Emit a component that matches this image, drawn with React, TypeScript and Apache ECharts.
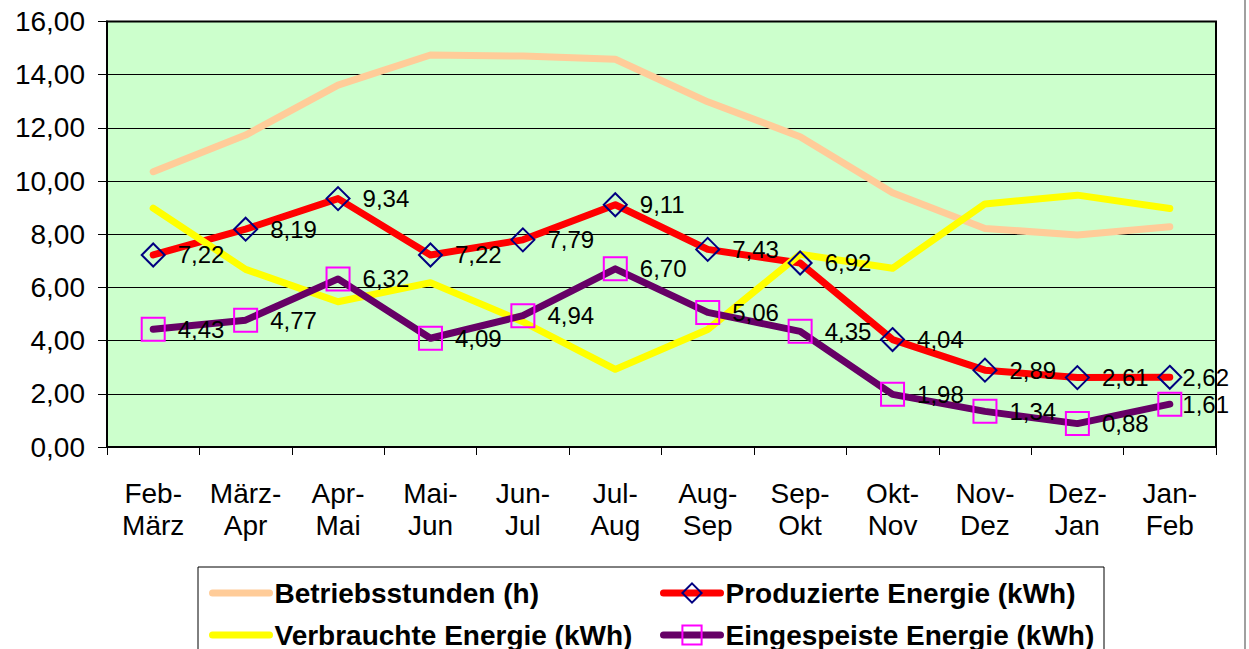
import React, { useEffect, useRef } from "react";
import * as echarts from "echarts";

const categories = [
  "Feb-\nMärz", "März-\nApr", "Apr-\nMai", "Mai-\nJun", "Jun-\nJul", "Jul-\nAug",
  "Aug-\nSep", "Sep-\nOkt", "Okt-\nNov", "Nov-\nDez", "Dez-\nJan", "Jan-\nFeb",
];
const betriebsstunden = [10.35, 11.73, 13.61, 14.74, 14.7, 14.58, 12.98, 11.67, 9.56, 8.22, 7.97, 8.28];
const produzierte = [7.22, 8.19, 9.34, 7.22, 7.79, 9.11, 7.43, 6.92, 4.04, 2.89, 2.61, 2.62];
const verbrauchte = [8.98, 6.68, 5.46, 6.18, 4.71, 2.92, 4.42, 7.25, 6.72, 9.14, 9.47, 8.97];
const eingespeiste = [4.43, 4.77, 6.32, 4.09, 4.94, 6.7, 5.06, 4.35, 1.98, 1.34, 0.88, 1.61];
const seriesNames = [
  "Betriebsstunden (h)",
  "Produzierte Energie (kWh)",
  "Verbrauchte Energie (kWh)",
  "Eingespeiste Energie (kWh)",
];

const FONT = "'Liberation Sans', Arial, sans-serif";
const fmt = (v: number) => v.toFixed(2).replace(".", ",");

export default function App() {
  const ref = useRef<HTMLDivElement>(null);
  useEffect(() => {
    if (!ref.current) return;
    const chart = echarts.init(ref.current, undefined, { renderer: "svg" });
    const labelCfg = {
      show: true,
      position: "right" as const,
      distance: 12,
      color: "#000",
      fontFamily: FONT,
      fontSize: 24,
      formatter: (p: any) => fmt(p.value),
    };
    const withLastLabelCloser = (arr: number[]) =>
      arr.map((v, i) =>
        i === arr.length - 1 ? { value: v, label: { distance: 0 } } : v
      );
    const legendItem = (name: string, left: number, top: number, hideSymbol: boolean) => ({
      orient: "horizontal" as const,
      left,
      top,
      padding: 0,
      itemWidth: 57,
      itemHeight: 24,
      textStyle: { fontFamily: FONT, fontSize: 28, fontWeight: "bold" as const, color: "#000", lineHeight: 26 },
      lineStyle: { width: 7, cap: "round" as const },
      data: [hideSymbol ? { name, itemStyle: { opacity: 0 } } : { name }],
    });
    chart.setOption({
      animation: false,
      backgroundColor: "#fff",
      grid: {
        left: 107,
        top: 21.5,
        right: 33,
        bottom: 202,
        show: true,
        backgroundColor: "#CCFFCC",
        borderColor: "#000",
        borderWidth: 2,
      },
      graphic: [
        {
          type: "rect",
          z: 0,
          shape: { x: 198, y: 567, width: 906, height: 100 },
          style: { fill: "#fff", stroke: "#000", lineWidth: 1 },
        },
        {
          type: "line",
          shape: { x1: 1245, y1: 0, x2: 1245, y2: 649 },
          style: { stroke: "#a0a0a0", lineWidth: 2 },
        },
      ],
      legend: [
        legendItem(seriesNames[0], 209, 579, true),
        legendItem(seriesNames[2], 209, 621, true),
        legendItem(seriesNames[1], 660, 579, false),
        legendItem(seriesNames[3], 660, 621, false),
      ],
      xAxis: {
        type: "category",
        data: categories,
        boundaryGap: true,
        axisLine: { show: true, lineStyle: { color: "#000", width: 2 } },
        axisTick: { show: true, length: 8, interval: 0, lineStyle: { color: "#000", width: 1 } },
        axisLabel: {
          interval: 0,
          margin: 30,
          color: "#000",
          fontFamily: FONT,
          fontSize: 28,
          lineHeight: 32,
        },
        splitLine: { show: false },
      },
      yAxis: {
        type: "value",
        min: 0,
        max: 16,
        interval: 2,
        axisLine: { show: true, lineStyle: { color: "#000", width: 2 } },
        axisTick: { show: true, length: 9, lineStyle: { color: "#000", width: 1 } },
        axisLabel: {
          margin: 22,
          color: "#000",
          fontFamily: FONT,
          fontSize: 28,
          formatter: (v: number) => fmt(v),
        },
        splitLine: { show: true, lineStyle: { color: "#000", width: 1 } },
      },
      series: [
        {
          name: seriesNames[0],
          type: "line",
          data: betriebsstunden,
          symbol: "none",
          itemStyle: { color: "#FFCC99" },
          lineStyle: { color: "#FFCC99", width: 7, cap: "round", join: "round" },
        },
        {
          name: seriesNames[1],
          type: "line",
          data: withLastLabelCloser(produzierte),
          symbol: "diamond",
          symbolSize: 23,
          itemStyle: { color: "rgba(0,0,0,0)", borderColor: "#000080", borderWidth: 2 },
          lineStyle: { color: "#FF0000", width: 7, cap: "round", join: "round" },
          label: labelCfg,
        },
        {
          name: seriesNames[2],
          type: "line",
          data: verbrauchte,
          symbol: "none",
          itemStyle: { color: "#FFFF00" },
          lineStyle: { color: "#FFFF00", width: 7, cap: "round", join: "round" },
        },
        {
          name: seriesNames[3],
          type: "line",
          data: withLastLabelCloser(eingespeiste),
          symbol: "rect",
          symbolSize: 23,
          itemStyle: { color: "rgba(0,0,0,0)", borderColor: "#FF00FF", borderWidth: 2 },
          lineStyle: { color: "#660066", width: 7, cap: "round", join: "round" },
          label: labelCfg,
        },
      ],
    });
    return () => chart.dispose();
  }, []);
  return (
    <div
      ref={ref}
      style={{ position: "fixed", left: 0, top: 0, width: 1249, height: 649 }}
    />
  );
}
